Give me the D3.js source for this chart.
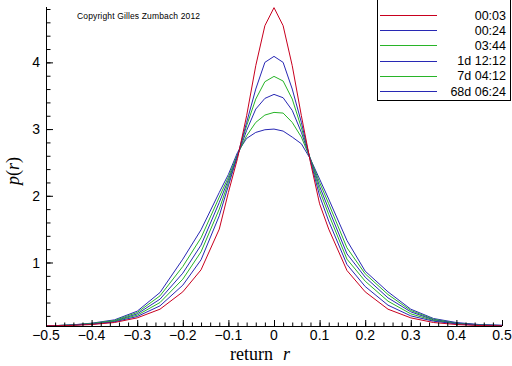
<!DOCTYPE html>
<html>
<head>
<meta charset="utf-8">
<script src="https://cdn.jsdelivr.net/npm/d3@7"></script>
<style>
  body { margin: 0; background: #fff; }
  svg { display: block; }
</style>
</head>
<body>
<script>
// return grid and p(r) for each time horizon
const returns = [-0.5, -0.45, -0.4, -0.35, -0.3, -0.25, -0.2, -0.16, -0.12, -0.1, -0.08, -0.06, -0.04, -0.02, 0,
  0.02, 0.04, 0.06, 0.08, 0.1, 0.12, 0.16, 0.2, 0.25, 0.3, 0.35, 0.4, 0.45, 0.5];

const p0003 = [0.05, 0.055, 0.07, 0.1, 0.17, 0.3, 0.56, 0.89, 1.5, 2.05, 2.56, 3.2, 3.95, 4.55, 4.82,
  4.55, 3.95, 3.2, 2.5, 1.88, 1.5, 0.88, 0.56, 0.3, 0.17, 0.1, 0.07, 0.055, 0.05];
const p0024 = [0.05, 0.06, 0.075, 0.11, 0.19, 0.35, 0.66, 1.04, 1.7, 2.15, 2.6, 3.1, 3.6, 4.0, 4.09,
  4.0, 3.6, 3.1, 2.52, 2.0, 1.62, 0.97, 0.64, 0.36, 0.2, 0.12, 0.08, 0.06, 0.05];
const p0344 = [0.05, 0.06, 0.08, 0.12, 0.21, 0.4, 0.75, 1.16, 1.8, 2.2, 2.6, 3.05, 3.45, 3.71, 3.79,
  3.72, 3.45, 3.02, 2.54, 2.08, 1.72, 1.05, 0.72, 0.42, 0.23, 0.13, 0.085, 0.06, 0.05];
const p1d1212 = [0.05, 0.06, 0.08, 0.12, 0.23, 0.45, 0.84, 1.26, 1.9, 2.24, 2.6, 2.98, 3.3, 3.46, 3.52,
  3.47, 3.28, 2.95, 2.55, 2.14, 1.8, 1.13, 0.78, 0.47, 0.26, 0.14, 0.09, 0.065, 0.055];
const p7d0412 = [0.05, 0.06, 0.085, 0.13, 0.25, 0.5, 0.94, 1.37, 1.98, 2.28, 2.62, 2.9, 3.1, 3.21, 3.25,
  3.24, 3.1, 2.88, 2.55, 2.2, 1.88, 1.22, 0.83, 0.52, 0.28, 0.15, 0.09, 0.065, 0.055];
const p68d0624 = [0.05, 0.06, 0.09, 0.14, 0.27, 0.55, 1.05, 1.49, 2.05, 2.32, 2.65, 2.86, 2.95, 2.99, 3.0,
  2.97, 2.88, 2.78, 2.55, 2.25, 1.95, 1.33, 0.87, 0.56, 0.3, 0.16, 0.1, 0.07, 0.06];

const seriesLabels = ["00:03", "00:24", "03:44", "1d 12:12", "7d 04:12", "68d 06:24"];
const seriesColors = ["#c8001e", "#2828b4", "#28b428", "#2828b4", "#28b428", "#2828b4"];
const seriesValues = [p0003, p0024, p0344, p1d1212, p7d0412, p68d0624];

const xTicks = [-0.5, -0.4, -0.3, -0.2, -0.1, 0, 0.1, 0.2, 0.3, 0.4, 0.5];
const yTicks = [1, 2, 3, 4];

const width = 512;
const height = 366;

const svg = d3.select('body')
  .append('svg')
  .attr('width', width)
  .attr('height', height);

const x = d3.scaleLinear().domain([-0.5, 0.5]).range([46, 502]);
const y = d3.scaleLinear().domain([0.048, 4.83]).range([326, 7]);

const font = "'Liberation Sans', Arial, sans-serif";

// curves, outer (widest) first so the red one sits on top
const line = d3.line()
  .x(d => x(d[0]))
  .y(d => y(d[1]));

svg.append('g')
  .selectAll('path')
  .data(seriesValues.map((vals, i) => ({ i, pts: returns.map((r, j) => [r, vals[j]]) })).reverse())
  .enter()
  .append('path')
  .attr('d', d => line(d.pts))
  .attr('fill', 'none')
  .attr('stroke', d => seriesColors[d.i])
  .attr('stroke-width', 1);

// x axis: major ticks every 0.1, minor every 0.02, pointing inward
const xAxis = svg.append('g')
  .attr('transform', `translate(0,326)`)
  .call(d3.axisTop(x).tickValues(d3.range(-0.5, 0.5001, 0.02)).tickSize(3.5).tickFormat(''));
xAxis.select('.domain').remove();
svg.append('g')
  .attr('transform', `translate(0,326)`)
  .call(d3.axisTop(x).tickValues(xTicks).tickSize(6).tickFormat(''))
  .select('.domain').remove();
svg.append('line')
  .attr('x1', x(-0.5)).attr('x2', x(0.5))
  .attr('y1', 326.5).attr('y2', 326.5)
  .attr('stroke', '#000');

svg.append('g')
  .selectAll('text')
  .data(xTicks)
  .enter()
  .append('text')
  .attr('x', d => x(d))
  .attr('y', 340)
  .attr('text-anchor', 'middle')
  .style('font-family', font)
  .style('font-size', '14px')
  .text(d => d === 0 ? '0' : d3.format('.1f')(d));

// y axis
svg.append('g')
  .attr('transform', `translate(46,0)`)
  .call(d3.axisRight(y).tickValues(d3.range(0.2, 4.81, 0.2)).tickSize(4.5).tickFormat(''))
  .select('.domain').remove();
svg.append('g')
  .attr('transform', `translate(46,0)`)
  .call(d3.axisRight(y).tickValues(yTicks).tickSize(7).tickFormat(''))
  .select('.domain').remove();
svg.append('line')
  .attr('x1', 46.5).attr('x2', 46.5)
  .attr('y1', 7).attr('y2', 327)
  .attr('stroke', '#000');

svg.append('g')
  .selectAll('text')
  .data(yTicks)
  .enter()
  .append('text')
  .attr('x', 40)
  .attr('y', d => y(d))
  .attr('dy', '0.36em')
  .attr('text-anchor', 'end')
  .style('font-family', font)
  .style('font-size', '14px')
  .text(d => d);

// axis titles
const xTitle = svg.append('text')
  .attr('x', 260)
  .attr('y', 360)
  .attr('text-anchor', 'middle')
  .style('font-family', "'Liberation Serif', 'Times New Roman', serif")
  .style('font-size', '18px');
xTitle.append('tspan').text('return');
xTitle.append('tspan').attr('dx', 10).style('font-style', 'italic').text('r');

const yTitle = svg.append('text')
  .attr('transform', 'translate(19,171) rotate(-90)')
  .attr('text-anchor', 'middle')
  .style('font-family', "'Liberation Serif', 'Times New Roman', serif")
  .style('font-size', '18px');
yTitle.append('tspan').style('font-style', 'italic').text('p');
yTitle.append('tspan').text('(');
yTitle.append('tspan').style('font-style', 'italic').text('r');
yTitle.append('tspan').text(')');

svg.append('text')
  .attr('x', 77)
  .attr('y', 19)
  .attr('textLength', 123)
  .style('font-family', font)
  .style('font-size', '8.5px')
  .text('Copyright Gilles Zumbach 2012');

// legend
const legend = svg.append('g');
legend.append('rect')
  .attr('x', 377.5).attr('y', -0.5)
  .attr('width', 133).attr('height', 101)
  .attr('fill', '#fff')
  .attr('stroke', '#000');

const legendY = d3.scalePoint().domain(seriesLabels).range([15, 91]);

const items = legend.selectAll('g.item')
  .data(seriesLabels)
  .enter()
  .append('g')
  .attr('class', 'item');

items.append('line')
  .attr('x1', 380).attr('x2', 437)
  .attr('y1', d => Math.round(legendY(d)) + 0.5)
  .attr('y2', d => Math.round(legendY(d)) + 0.5)
  .attr('stroke', (d, i) => seriesColors[i]);

items.append('text')
  .attr('x', 506)
  .attr('y', d => legendY(d) + 4.5)
  .attr('text-anchor', 'end')
  .style('font-family', font)
  .style('font-size', '12.5px')
  .text(d => d);
</script>
</body>
</html>
